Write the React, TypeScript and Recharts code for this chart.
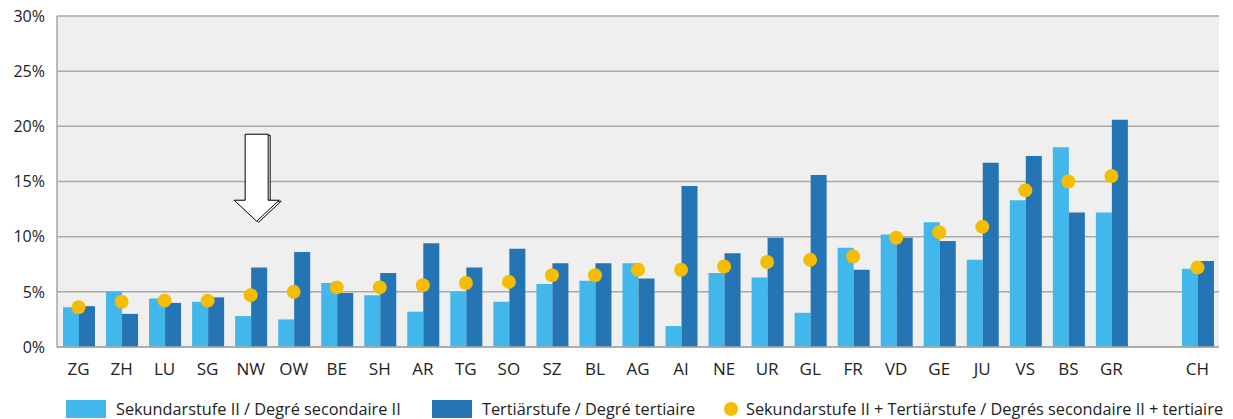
import React from "react";
import {
  Bar,
  CartesianGrid,
  ComposedChart,
  ReferenceDot,
  Scatter,
  XAxis,
  YAxis,
} from "recharts";

// Kantone (+ Lücke vor CH)
const cantons = [
  "ZG", "ZH", "LU", "SG", "NW", "OW", "BE", "SH", "AR", "TG", "SO", "SZ", "BL",
  "AG", "AI", "NE", "UR", "GL", "FR", "VD", "GE", "JU", "VS", "BS", "GR", "", "CH",
];

const sekundar = [
  3.6, 5.0, 4.4, 4.1, 2.8, 2.5, 5.8, 4.7, 3.2, 5.0, 4.1, 5.7, 6.0,
  7.6, 1.9, 6.7, 6.3, 3.1, 9.0, 10.2, 11.3, 7.9, 13.3, 18.1, 12.2, null, 7.1,
];

const tertiaer = [
  3.7, 3.0, 4.0, 4.5, 7.2, 8.6, 4.9, 6.7, 9.4, 7.2, 8.9, 7.6, 7.6,
  6.2, 14.6, 8.5, 9.9, 15.6, 7.0, 9.9, 9.6, 16.7, 17.3, 12.2, 20.6, null, 7.8,
];

const beide = [
  3.6, 4.1, 4.2, 4.2, 4.7, 5.0, 5.4, 5.4, 5.6, 5.8, 5.9, 6.5, 6.5,
  7.0, 7.0, 7.3, 7.7, 7.9, 8.2, 9.9, 10.4, 10.9, 14.2, 15.0, 15.5, null, 7.2,
];

const yTicks = [0, 5, 10, 15, 20, 25, 30];

const LIGHT = "#41b7ec";
const DARK = "#2574b4";
const DOT = "#f5bd00";
const GRID = "#a9a9a9";
const TEXT = "#222";
const FONT = "'Open Sans', Lato, sans-serif";

const data = cantons.map((c, i) => ({
  name: c,
  sek: sekundar[i],
  ter: tertiaer[i],
  tot: beide[i],
}));

function Dot(props: any) {
  const { cx, cy, payload } = props;
  if (cx == null || cy == null || payload?.tot == null) return null;
  return <circle cx={cx} cy={cy} r={7} fill={DOT} />;
}

// Pfeil über NW, Spitze bei (cx, cy)
function Arrow(props: any) {
  const { cx, cy } = props;
  if (cx == null || cy == null) return null;
  const tx = cx + 6;
  const pts = (dx: number, dy: number) =>
    [
      [tx - 11.5, cy - 87],
      [tx + 11.5, cy - 87],
      [tx + 11.5, cy - 21],
      [tx + 22.5, cy - 21],
      [tx, cy],
      [tx - 22.5, cy - 21],
      [tx - 11.5, cy - 21],
    ]
      .map(([x, y]) => `${x + dx},${y + dy}`)
      .join(" ");
  return (
    <g>
      <polygon points={pts(2, 1)} fill="#fff" stroke="#000" strokeWidth={1} />
      <polygon points={pts(0, 0)} fill="#fff" stroke="#000" strokeWidth={1} />
    </g>
  );
}

function LegendRow() {
  const item = (left: number, swatch: React.ReactNode, label: string) => (
    <div
      style={{
        position: "absolute",
        left,
        top: 0,
        display: "flex",
        alignItems: "center",
        height: 20,
      }}
    >
      {swatch}
      <span style={{ fontSize: 16.3, color: TEXT, whiteSpace: "nowrap" }}>{label}</span>
    </div>
  );
  const box = (color: string) => (
    <span style={{ display: "inline-block", width: 40, height: 18, background: color, marginRight: 10 }} />
  );
  return (
    <div style={{ position: "absolute", top: 399, left: 0, width: 1233, height: 20, fontFamily: FONT }}>
      {item(66, box(LIGHT), "Sekundarstufe II / Degré secondaire II")}
      {item(432, box(DARK), "Tertiärstufe / Degré tertiaire")}
      {item(
        724,
        <span
          style={{
            display: "inline-block",
            width: 14,
            height: 14,
            borderRadius: 7,
            background: DOT,
            marginRight: 8,
          }}
        />,
        "Sekundarstufe II + Tertiärstufe / Degrés secondaire II + tertiaire"
      )}
    </div>
  );
}

export default function App() {
  return (
    <div
      style={{
        position: "absolute",
        left: 0,
        top: 0,
        width: 1233,
        height: 419,
        background: "#fff",
        fontFamily: FONT,
      }}
    >
      <ComposedChart
        width={1233}
        height={385}
        data={data}
        margin={{ top: 16, right: 14, bottom: 0, left: 0 }}
        barGap={0}
        barSize={16}
      >
        <CartesianGrid vertical={false} fill="#efefef" stroke={GRID} strokeWidth={1.5} />
        <XAxis
          dataKey="name"
          interval={0}
          tickLine={false}
          axisLine={{ stroke: GRID, strokeWidth: 1.5 }}
          tick={{ fontSize: 17, fill: TEXT, fontFamily: FONT }}
          tickMargin={10}
          height={38}
        />
        <YAxis
          domain={[0, 30]}
          ticks={yTicks}
          tickFormatter={(v: number) => `${v}%`}
          tickLine={false}
          axisLine={{ stroke: GRID, strokeWidth: 1.5 }}
          tick={{ fontSize: 16, fill: TEXT, fontFamily: FONT }}
          tickMargin={6}
          width={57}
        />
        <YAxis
          yAxisId="right"
          orientation="right"
          width={0}
          tick={false}
          tickLine={false}
          axisLine={{ stroke: GRID, strokeWidth: 1.5 }}
        />
        <Bar dataKey="sek" fill={LIGHT} isAnimationActive={false} />
        <Bar dataKey="ter" fill={DARK} isAnimationActive={false} />
        <Scatter dataKey="tot" shape={<Dot />} isAnimationActive={false} />
        <ReferenceDot x="NW" y={11.4} shape={<Arrow />} />
      </ComposedChart>
      <LegendRow />
    </div>
  );
}
